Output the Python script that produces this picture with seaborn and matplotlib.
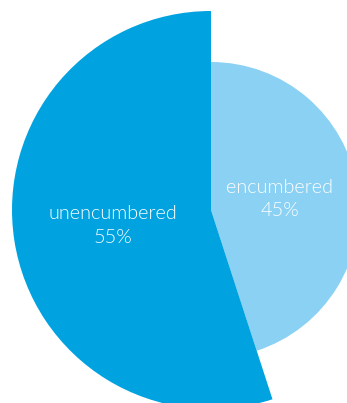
import numpy as np
import matplotlib
matplotlib.use("Agg")
import matplotlib.pyplot as plt
import seaborn as sns

sns.set_style("white")
plt.rcParams["font.family"] = ["Lato", "DejaVu Sans"]

categories = ["encumbered", "unencumbered"]
shares = [45, 55]
colors = ["#8ad1f4", "#00a3e0"]
radii = [148, 199]
label_frac = [0.47, 0.50]

W, H = 347, 403
cx, cy = 211, 210
fig = plt.figure(figsize=(W / 100, H / 100), dpi=100)
ax = fig.add_axes([0, 0, 1, 1])

wedges, _ = ax.pie(shares, colors=colors, startangle=90, counterclock=False,
                   radius=max(radii), wedgeprops=dict(linewidth=0))
ax.set_xlim(-cx, W - cx)
ax.set_ylim(-(H - cy), cy)
ax.set_aspect("equal")

for w, r, f, name, v in zip(wedges, radii, label_frac, categories, shares):
    w.set_radius(r)
    mid = np.deg2rad((w.theta1 + w.theta2) / 2)
    ax.text(f * r * np.cos(mid), f * r * np.sin(mid), f"{name}\n{v}%",
            ha="center", va="center", color="white", fontsize=14.3,
            fontweight=300, linespacing=1.45)

ax.axis("off")
fig.savefig("out.png", dpi=100)
